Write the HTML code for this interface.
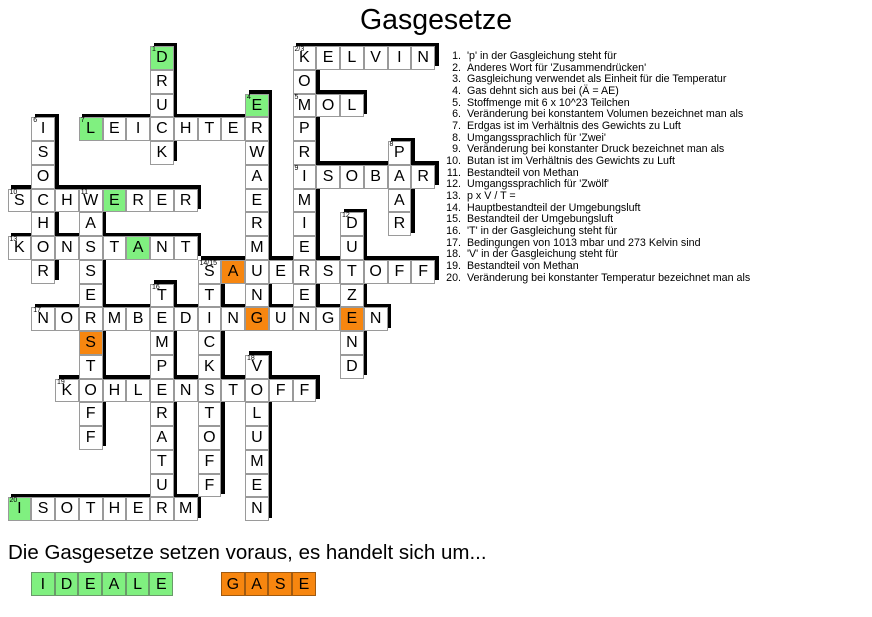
<!DOCTYPE html>
<html><head><meta charset="utf-8">
<style>
*{margin:0;padding:0;box-sizing:border-box}
body{width:872px;height:617px;background:#fff;position:relative;overflow:hidden;font-family:"Liberation Sans",Arial,sans-serif;color:#000}
.t{position:absolute;left:0;width:872px;top:4px;text-align:center;font-size:28.5px}
.s{position:absolute;background:#000;left:calc(11px + var(--c)*23.75px);top:calc(42.5px + var(--r)*23.75px);width:calc(var(--w,1)*23.75px);height:calc(var(--h,1)*23.75px)}
.w{position:absolute;display:flex;left:calc(7.5px + var(--c)*23.75px);top:calc(46px + var(--r)*23.75px)}
.v{flex-direction:column}
.w i{font-style:normal;display:block;width:23.75px;height:23.75px;border:1px solid #9a9a9a;background:#fff;text-align:center;line-height:22px;font-size:16px;position:relative}
.w i.g{background:#80f080}
.w i.o{background:#f7860f}
.w b{position:absolute;left:1px;top:-1px;font-size:7px;font-weight:normal;line-height:8px}
.cl{position:absolute;left:440px;top:51px;font-size:10.7px;line-height:11.67px}
.cl div{display:flex}
.cl span{width:27px;text-align:right;padding-right:6px}
.q{position:absolute;left:8px;top:541px;font-size:20.5px}
.a{position:absolute;top:572px;display:flex}
.a i{font-style:normal;display:block;width:23.7px;height:24px;border:1px solid #6a9a6a;text-align:center;line-height:23px;font-size:16px}
</style></head><body>
<div class="t">Gasgesetze</div>

<!-- shadows -->
<div class="s" style="--c:12;--r:0;--w:6"></div>
<div class="s" style="--c:12;--r:2;--w:3"></div>
<div class="s" style="--c:3;--r:3;--w:8"></div>
<div class="s" style="--c:12;--r:5;--w:6"></div>
<div class="s" style="--c:0;--r:6;--w:8"></div>
<div class="s" style="--c:0;--r:8;--w:8"></div>
<div class="s" style="--c:8;--r:9;--w:10"></div>
<div class="s" style="--c:1;--r:11;--w:15"></div>
<div class="s" style="--c:2;--r:14;--w:11"></div>
<div class="s" style="--c:0;--r:19;--w:8"></div>
<div class="s" style="--c:6;--r:0;--h:5"></div>
<div class="s" style="--c:12;--r:0;--h:12"></div>
<div class="s" style="--c:10;--r:2;--h:10"></div>
<div class="s" style="--c:1;--r:3;--h:7"></div>
<div class="s" style="--c:16;--r:4;--h:4"></div>
<div class="s" style="--c:3;--r:6;--h:11"></div>
<div class="s" style="--c:14;--r:7;--h:7"></div>
<div class="s" style="--c:8;--r:9;--h:10"></div>
<div class="s" style="--c:6;--r:10;--h:10"></div>
<div class="s" style="--c:10;--r:13;--h:7"></div>

<!-- across -->
<div class="w" style="--c:12;--r:0"><i><b>2/3</b>K</i><i>E</i><i>L</i><i>V</i><i>I</i><i>N</i></div>
<div class="w" style="--c:12;--r:2"><i><b>5</b>M</i><i>O</i><i>L</i></div>
<div class="w" style="--c:3;--r:3"><i class="g"><b>7</b>L</i><i>E</i><i>I</i><i>C</i><i>H</i><i>T</i><i>E</i><i>R</i></div>
<div class="w" style="--c:12;--r:5"><i><b>9</b>I</i><i>S</i><i>O</i><i>B</i><i>A</i><i>R</i></div>
<div class="w" style="--c:0;--r:6"><i><b>10</b>S</i><i>C</i><i>H</i><i>W</i><i class="g">E</i><i>R</i><i>E</i><i>R</i></div>
<div class="w" style="--c:0;--r:8"><i><b>13</b>K</i><i>O</i><i>N</i><i>S</i><i>T</i><i class="g">A</i><i>N</i><i>T</i></div>
<div class="w" style="--c:8;--r:9"><i><b>14/15</b>S</i><i class="o">A</i><i>U</i><i>E</i><i>R</i><i>S</i><i>T</i><i>O</i><i>F</i><i>F</i></div>
<div class="w" style="--c:1;--r:11"><i><b>17</b>N</i><i>O</i><i>R</i><i>M</i><i>B</i><i>E</i><i>D</i><i>I</i><i>N</i><i class="o">G</i><i>U</i><i>N</i><i>G</i><i class="o">E</i><i>N</i></div>
<div class="w" style="--c:2;--r:14"><i><b>19</b>K</i><i>O</i><i>H</i><i>L</i><i>E</i><i>N</i><i>S</i><i>T</i><i>O</i><i>F</i><i>F</i></div>
<div class="w" style="--c:0;--r:19"><i class="g"><b>20</b>I</i><i>S</i><i>O</i><i>T</i><i>H</i><i>E</i><i>R</i><i>M</i></div>

<!-- down -->
<div class="w v" style="--c:6;--r:0"><i class="g"><b>1</b>D</i><i>R</i><i>U</i><i>C</i><i>K</i></div>
<div class="w v" style="--c:12;--r:0"><i><b>2/3</b>K</i><i>O</i><i><b>5</b>M</i><i>P</i><i>R</i><i><b>9</b>I</i><i>M</i><i>I</i><i>E</i><i>R</i><i>E</i><i>N</i></div>
<div class="w v" style="--c:10;--r:2"><i class="g"><b>4</b>E</i><i>R</i><i>W</i><i>A</i><i>E</i><i>R</i><i>M</i><i>U</i><i>N</i><i class="o">G</i></div>
<div class="w v" style="--c:1;--r:3"><i><b>6</b>I</i><i>S</i><i>O</i><i>C</i><i>H</i><i>O</i><i>R</i></div>
<div class="w v" style="--c:16;--r:4"><i><b>8</b>P</i><i>A</i><i>A</i><i>R</i></div>
<div class="w v" style="--c:3;--r:6"><i><b>11</b>W</i><i>A</i><i>S</i><i>S</i><i>E</i><i>R</i><i class="o">S</i><i>T</i><i>O</i><i>F</i><i>F</i></div>
<div class="w v" style="--c:14;--r:7"><i><b>12</b>D</i><i>U</i><i>T</i><i>Z</i><i class="o">E</i><i>N</i><i>D</i></div>
<div class="w v" style="--c:8;--r:9"><i><b>14/15</b>S</i><i>T</i><i>I</i><i>C</i><i>K</i><i>S</i><i>T</i><i>O</i><i>F</i><i>F</i></div>
<div class="w v" style="--c:6;--r:10"><i><b>16</b>T</i><i>E</i><i>M</i><i>P</i><i>E</i><i>R</i><i>A</i><i>T</i><i>U</i><i>R</i></div>
<div class="w v" style="--c:10;--r:13"><i><b>18</b>V</i><i>O</i><i>L</i><i>U</i><i>M</i><i>E</i><i>N</i></div>

<div class="cl">
<div><span>1.</span>'p' in der Gasgleichung steht für</div>
<div><span>2.</span>Anderes Wort für 'Zusammendrücken'</div>
<div><span>3.</span>Gasgleichung verwendet als Einheit für die Temperatur</div>
<div><span>4.</span>Gas dehnt sich aus bei (Ä = AE)</div>
<div><span>5.</span>Stoffmenge mit 6 x 10^23 Teilchen</div>
<div><span>6.</span>Veränderung bei konstantem Volumen bezeichnet man als</div>
<div><span>7.</span>Erdgas ist im Verhältnis des Gewichts zu Luft</div>
<div><span>8.</span>Umgangssprachlich für 'Zwei'</div>
<div><span>9.</span>Veränderung bei konstanter Druck bezeichnet man als</div>
<div><span>10.</span>Butan ist im Verhältnis des Gewichts zu Luft</div>
<div><span>11.</span>Bestandteil von Methan</div>
<div><span>12.</span>Umgangssprachlich für 'Zwölf'</div>
<div><span>13.</span>p x V / T =</div>
<div><span>14.</span>Hauptbestandteil der Umgebungsluft</div>
<div><span>15.</span>Bestandteil der Umgebungsluft</div>
<div><span>16.</span>'T' in der Gasgleichung steht für</div>
<div><span>17.</span>Bedingungen von 1013 mbar und 273 Kelvin sind</div>
<div><span>18.</span>'V' in der Gasgleichung steht für</div>
<div><span>19.</span>Bestandteil von Methan</div>
<div><span>20.</span>Veränderung bei konstanter Temperatur bezeichnet man als</div>
</div>

<div class="q">Die Gasgesetze setzen voraus, es handelt sich um...</div>
<div class="a" style="left:31px"><i style="background:#80f080">I</i><i style="background:#80f080">D</i><i style="background:#80f080">E</i><i style="background:#80f080">A</i><i style="background:#80f080">L</i><i style="background:#80f080">E</i></div>
<div class="a" style="left:221px"><i style="background:#f7860f;border-color:#a05a10">G</i><i style="background:#f7860f;border-color:#a05a10">A</i><i style="background:#f7860f;border-color:#a05a10">S</i><i style="background:#f7860f;border-color:#a05a10">E</i></div>
</body></html>
